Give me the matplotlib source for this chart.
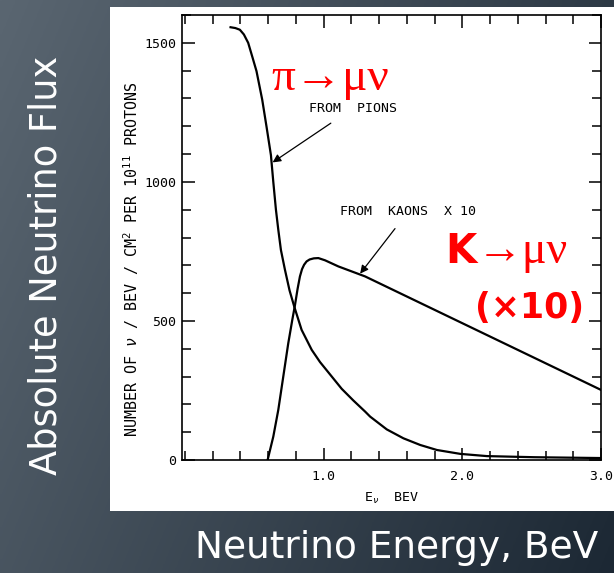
import numpy as np
import matplotlib
matplotlib.use("Agg")
import matplotlib.pyplot as plt
from matplotlib.ticker import MultipleLocator, FixedLocator

plt.rcParams['mathtext.fontset'] = 'custom'
plt.rcParams['mathtext.rm'] = 'DejaVu Sans Mono'
plt.rcParams['mathtext.it'] = 'DejaVu Sans Mono:italic'

# ---- data ----
pion_E = [0.33, 0.365, 0.397, 0.426, 0.457, 0.489, 0.517, 0.558, 0.590, 0.621,
          0.638, 0.657, 0.674, 0.693, 0.722, 0.755, 0.79, 0.842, 0.915, 0.975,
          1.04, 1.131, 1.215, 1.30, 1.336, 1.456, 1.576, 1.697, 1.817, 1.986,
          2.178, 2.52, 3.0]
pion_N = [1556, 1553, 1547, 1530, 1500, 1446, 1398, 1296, 1196, 1096,
          1000, 900, 828, 755, 684, 610, 550, 468, 396, 352,
          312, 256, 214, 174, 156, 110, 78, 54, 36, 22,
          14, 10, 7]

kaon_E = [0.597, 0.638, 0.674, 0.71, 0.746, 0.775, 0.794, 0.813, 0.83, 0.845,
          0.86, 0.878, 0.9, 0.93, 0.963, 1.011, 1.107, 1.30, 2.0, 2.5, 3.0]
kaon_N = [0, 84, 180, 300, 420, 504, 556, 615, 660, 686,
          702, 714, 721, 725, 726, 718, 696, 660, 492, 372, 252]

y_ticks = [0, 500, 1000, 1500]
y_ticklabels = ["0", "500", "1000", "1500"]
x_ticks = [1.0, 2.0, 3.0]
x_ticklabels = ["1.0", "2.0", "3.0"]

W, H = 614, 573
fig = plt.figure(figsize=(W / 100, H / 100), dpi=100)

# slide background gradient
bg = fig.add_axes([0, 0, 1, 1])
gx, gy = np.meshgrid(np.linspace(0, 1, 200), np.linspace(0, 1, 200))
t = np.clip(0.72 * gx + 0.28 * gy, 0, 1)
c0 = np.array([0x5a, 0x66, 0x71]) / 255
c1 = np.array([0x1c, 0x28, 0x34]) / 255
img = c0[None, None, :] * (1 - t[..., None]) + c1[None, None, :] * t[..., None]
bg.imshow(img, extent=[0, 1, 0, 1], aspect="auto", origin="upper")
bg.set_axis_off()

# white panel
panel = fig.add_axes([110 / W, (H - 511) / H, 504 / W, 504 / H])
panel.set_facecolor("white")
panel.set_xticks([]); panel.set_yticks([])
for s in panel.spines.values():
    s.set_visible(False)

mono = "DejaVu Sans Mono"
ax = fig.add_axes([182 / W, (H - 460) / H, 419 / W, 445 / H])
ax.set_facecolor("white")
ax.plot(pion_E, pion_N, color="black", lw=1.6, solid_joinstyle="round")
ax.plot(kaon_E, kaon_N, color="black", lw=1.6, solid_joinstyle="round")
ax.set_xlim(-0.02, 3.0)
ax.set_ylim(0, 1600)

ax.xaxis.set_major_locator(FixedLocator(x_ticks))
ax.set_xticklabels(x_ticklabels, family=mono)
ax.xaxis.set_minor_locator(MultipleLocator(0.2))
ax.yaxis.set_major_locator(FixedLocator(y_ticks))
ax.set_yticklabels(y_ticklabels, family=mono)
ax.yaxis.set_minor_locator(MultipleLocator(100))
ax.tick_params(which="both", direction="in", top=True, right=True,
               width=1.1, labelsize=9.5, pad=4, colors="black")
ax.tick_params(axis="x", pad=7)
ax.tick_params(which="major", length=9)
ax.tick_params(which="minor", length=6.5)
for s in ax.spines.values():
    s.set_linewidth(1.2)

ax.set_xlabel(r"E$_{\nu}$  BEV", fontsize=9.5, labelpad=6, family=mono)

fig.text(131 / W, 1 - 259 / H,
         r"NUMBER OF $\nu$ / BEV / CM$^2$ PER 10$^{11}$ PROTONS",
         rotation=90, ha="center", va="center", fontsize=10.8, family=mono)

# annotations
ax.annotate("FROM  PIONS", xy=(0.633, 1070), xytext=(1.21, 1264),
            fontsize=9.5, ha="center", va="center", family=mono,
            arrowprops=dict(arrowstyle="-|>", lw=0.9, color="black",
                            mutation_scale=12, shrinkA=7, shrinkB=0))
ax.annotate("FROM  KAONS  X 10", xy=(1.264, 670), xytext=(1.61, 893),
            fontsize=9.5, ha="center", va="center", family=mono,
            arrowprops=dict(arrowstyle="-|>", lw=0.9, color="black",
                            mutation_scale=12, shrinkA=7, shrinkB=0))

red = "#ff0000"
ax.text(0.626, 1332, "π→μν", color=red, fontsize=34,
        family=["Liberation Serif", "DejaVu Serif"], ha="left", va="baseline")
ax.text(1.877, 708, "K", color=red, fontsize=29, family="DejaVu Sans",
        weight="bold", ha="left", va="baseline")
ax.text(2.105, 708, "→μν", color=red, fontsize=33,
        family=["Liberation Serif", "DejaVu Serif"], ha="left", va="baseline")
ax.text(2.094, 511, "(×10)", color=red, fontsize=25, family="DejaVu Sans",
        weight="bold", ha="left", va="baseline")

# slide titles
fig.text(46 / W, 1 - 265 / H, "Absolute Neutrino Flux", rotation=90, color="white",
         fontsize=26.5, family="DejaVu Sans", ha="center", va="center")
fig.text(397 / W, 1 - 558 / H, "Neutrino Energy, BeV", color="white",
         fontsize=27, family="DejaVu Sans", ha="center", va="baseline")

fig.savefig("out.png", dpi=100)
